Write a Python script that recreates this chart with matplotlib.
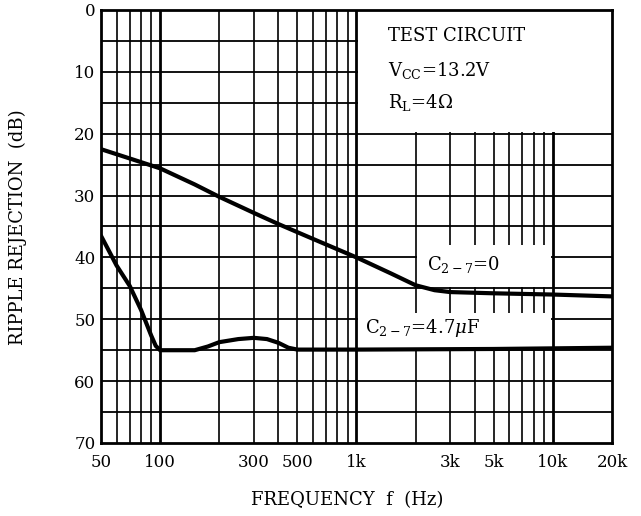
import matplotlib
matplotlib.use("Agg")
import matplotlib.pyplot as plt
from matplotlib.patches import Rectangle

plt.rcParams['font.family'] = ['DejaVu Serif']
plt.rcParams['mathtext.fontset'] = 'dejavuserif'

# ---- data ----
freq_c0 = [50, 70, 100, 150, 200, 300, 400, 600, 1000, 1500, 2000, 2500, 3000, 5000, 10000, 20000]
rr_c0 = [22.5, 24.0, 25.6, 28.2, 30.2, 32.8, 34.6, 37.0, 40.0, 42.6, 44.5, 45.3, 45.6, 45.8, 46.0, 46.3]

freq_c47 = [50, 55, 60, 70, 80, 90, 95, 100, 150, 175, 200, 250, 300, 350, 400, 450, 500, 1000, 5000, 20000]
rr_c47 = [36.5, 39.0, 41.3, 44.6, 48.5, 52.6, 54.3, 55.0, 55.0, 54.4, 53.7, 53.2, 53.0, 53.2, 53.8, 54.6, 54.9, 54.9, 54.8, 54.6]

xtick_vals = [50, 100, 300, 500, 1000, 3000, 5000, 10000, 20000]
xtick_labels = ["50", "100", "300", "500", "1k", "3k", "5k", "10k", "20k"]
xminor_vals = [60, 70, 80, 90, 200, 400, 600, 700, 800, 900,
               2000, 4000, 6000, 7000, 8000, 9000]
ytick_vals = [0, 10, 20, 30, 40, 50, 60, 70]
yminor_vals = [5, 15, 25, 35, 45, 55, 65]
xheavy_vals = [100, 1000, 10000]

label_c0 = r"C$_{2-7}$=0"
label_c47 = r"C$_{2-7}$=4.7$\mu$F"
circuit_lines = ["TEST CIRCUIT", r"V$_{\mathrm{CC}}$=13.2V", r"R$_{\mathrm{L}}$=4$\Omega$"]

W, H = 641, 516
fig = plt.figure(figsize=(W / 100, H / 100), dpi=100)
ax = fig.add_axes([101 / W, 1 - 443 / H, (612 - 101) / W, (443 - 10) / H])

ax.set_xscale('log')
ax.set_xlim(50, 20000)
ax.set_ylim(70, 0)

# grid lines
for v in xtick_vals[1:-1] + xminor_vals:
    lw = 2.0 if v in xheavy_vals else 1.2
    ax.axvline(v, color='black', lw=lw, zorder=0.5)
for v in ytick_vals[1:-1] + yminor_vals:
    ax.axhline(v, color='black', lw=1.3, zorder=0.5)

# white label areas (blank out grid)
boxes = [
    (1000 * 1.02, 20000, 0, 19.75),     # test circuit
    (2000 * 1.02, 10000 / 1.02, 38.0, 44.75),   # C=0 label
    (1000 * 1.02, 10000 / 1.02, 49.0, 54.75),   # C=4.7uF label
]
for x0, x1, y0, y1 in boxes:
    ax.add_patch(Rectangle((x0, y0), x1 - x0, y1 - y0, facecolor='white',
                           edgecolor='none', zorder=1))

# curves
ax.plot(freq_c0, rr_c0, color='black', lw=3.0, zorder=3,
        solid_joinstyle='round', solid_capstyle='round')
ax.plot(freq_c47, rr_c47, color='black', lw=3.0, zorder=3,
        solid_joinstyle='round', solid_capstyle='round')

# ticks
ax.set_xticks(xtick_vals)
ax.set_xticklabels(xtick_labels)
ax.set_xticks([], minor=True)
ax.set_yticks(ytick_vals)
ax.set_yticklabels([str(v) for v in ytick_vals])
ax.tick_params(axis='both', which='both', length=0, labelsize=12)
ax.tick_params(axis='x', pad=8)
ax.tick_params(axis='y', pad=4)

for s in ax.spines.values():
    s.set_linewidth(2.0)
    s.set_zorder(4)

# texts
ax.text(1450, 4.2, circuit_lines[0], fontsize=13, va='center', ha='left', zorder=5)
ax.text(1450, 9.8, circuit_lines[1], fontsize=13, va='center', ha='left', zorder=5)
ax.text(1450, 15.0, circuit_lines[2], fontsize=13, va='center', ha='left', zorder=5)
ax.text(2280, 41.2, label_c0, fontsize=13, va='center', ha='left', zorder=5)
ax.text(1100, 51.4, label_c47, fontsize=13, va='center', ha='left', zorder=5)

fig.text(18 / W, 1 - 227 / H, "RIPPLE REJECTION  (dB)", rotation=90,
         ha='center', va='center', fontsize=13)
fig.text(347 / W, 1 - 500 / H, "FREQUENCY  f  (Hz)", ha='center', va='center',
         fontsize=13)

fig.savefig("out.png", dpi=100, facecolor='white')
